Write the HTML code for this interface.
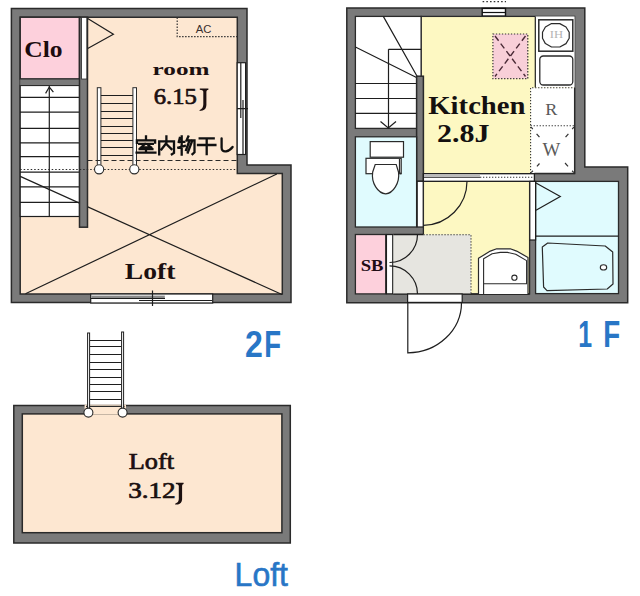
<!DOCTYPE html>
<html><head><meta charset="utf-8"><style>
html,body{margin:0;padding:0;background:#fff;width:640px;height:596px;overflow:hidden}
svg{display:block}
.wall{fill:#7a7a7a;stroke:#2a2a2a;stroke-width:1.5}
.ln{stroke:#1e1e1e;stroke-width:1.2;fill:none}
</style></head><body>
<svg width="640" height="596" viewBox="0 0 640 596">
<rect width="640" height="596" fill="#fff"/>

<!-- ================= 2F ================= -->
<g id="f2">
<path class="wall" d="M11.4,8.6 H247 V165.1 H291 V302.6 H11.4 Z"/>
<path d="M20.2,17.2 H237.3 V173.6 H282.3 V294.1 H20.2 Z" fill="#fde7d1" stroke="#2a2a2a" stroke-width="1.5"/>
<!-- stair -->
<rect x="20.2" y="85.5" width="59.3" height="131" fill="#fff" stroke="#1e1e1e" stroke-width="1.2"/>
<g class="ln">
<path d="M20,97.4H79.5M20,112.2H79.5M20,128.3H79.5M20,142.8H79.5M20,156.6H79.5M20,172.1H79.5M20,186.8H79.5M20,202.4H79.5"/>
<path d="M49.3,86V216.5"/>
<path d="M45.6,93.4 L49.3,87 L53.4,92.1"/>
</g>
<!-- X -->
<g class="ln">
<path d="M20.2,176.4 L282,294.5 M276.8,174 L25.5,293.8"/>
</g>
<!-- Clo -->
<rect x="20.2" y="17.2" width="59.3" height="61.8" fill="#fdd0dc" stroke="#2a2a2a" stroke-width="1.5"/>
<!-- wall below Clo -->
<rect x="20.2" y="79" width="67.3" height="6.5" fill="#7a7a7a"/>
<path d="M20.2,79 H79.5 M20.2,85.5 H79.5" stroke="#2a2a2a" stroke-width="1.2"/>
<!-- wall right of Clo/stair -->
<rect x="79.5" y="17.2" width="8" height="210" class="wall"/>
<rect x="81.6" y="17.5" width="5.2" height="61.5" fill="#fff" stroke="#2a2a2a" stroke-width="0.8"/>
<path class="ln" d="M87.7,18.5 L113.4,34.2 L87.7,48.5"/>
<!-- AC -->
<path d="M177.2,17.5 V36.6 H237" stroke="#333" stroke-width="1.2" stroke-dasharray="1.5,1.5" fill="none"/>
<!-- right window -->
<rect x="237.2" y="62.7" width="8.4" height="91.8" fill="#fff" stroke="#1e1e1e" stroke-width="1.2"/>
<path class="ln" d="M240.8,63V118 M243,100V154 M237,108.6H248" stroke-width="0.9"/>
<!-- bottom window -->
<rect x="90.7" y="294" width="122" height="9" fill="#fff" stroke="#1e1e1e" stroke-width="1.2"/>
<rect x="91.3" y="295.6" width="73.5" height="2.6" fill="#8a8a8a"/>
<path class="ln" d="M91,298.5H165 M139,300.5H212" stroke-width="1"/>
<path class="ln" d="M152.5,290.5V306" stroke-width="1.2"/>
<!-- ladder -->
<g>
<rect x="97.3" y="87.7" width="3.6" height="82" fill="#fff" stroke="#2a2a2a" stroke-width="1"/>
<rect x="132.9" y="87.7" width="3.6" height="82" fill="#fff" stroke="#2a2a2a" stroke-width="1"/>
<path class="ln" stroke-width="1.5" d="M100.9,95.5H132.9M100.9,103.5H132.9M100.9,111.5H132.9M100.9,118.5H132.9M100.9,126.5H132.9M100.9,133.5H132.9M100.9,140.5H132.9M100.9,147.5H132.9M100.9,155.5H132.9"/>
</g>
<path d="M87.5,160.5 H237.3" stroke="#2a2a2a" stroke-width="1.1" stroke-dasharray="5,3" fill="none"/>
<path d="M20.2,169.5 H237.3" stroke="#2a2a2a" stroke-width="1.2" stroke-dasharray="1.5,2" fill="none"/>
<circle cx="99.1" cy="169.3" r="4.6" fill="#fff" stroke="#2a2a2a" stroke-width="1.1"/>
<circle cx="134.3" cy="169.3" r="4.6" fill="#fff" stroke="#2a2a2a" stroke-width="1.1"/>
<!-- texts -->
<!-- 室内物干し -->
<g fill="none" stroke="#111" stroke-width="2.3" stroke-linecap="square">
<g transform="translate(136,136.5)">
<path d="M10,0V2.3 M0.9,6.4V3.8H19.1V6.2 M3.2,7.3H16.8 M9,7.3L5.2,10.9H15 M12.6,8.9L15.6,11.7 M3.6,12.6H16.4 M10,11V15.8 M0.6,16.1H19.4"/>
</g>
<g transform="translate(158.4,136.5)">
<path d="M0.8,17.8V4.8H15.6V16.4L13.5,17.8 M8,0V6.5 L3,13 M8,7.5L13,12.5"/>
</g>
<g transform="translate(178.3,136.5)">
<path d="M1.5,1.5L0.5,5.5 M0.5,5.3H6 M3.4,0V18 M0,11L6.5,9.3 M10,0L8.2,4 M8.8,3.8H16.2V15.8L14.2,17.6 M11.2,4L7.8,13.5 M14,4L9.5,16"/>
</g>
<g transform="translate(197.7,136.5)">
<path d="M2,1.8H16 M0.3,8.5H17.7 M9,2V17.6"/>
</g>
<g transform="translate(218.6,136.5)">
<path d="M3,1.8V11 Q3,15.5 7.5,14.8 Q11.5,14 14,10.5" stroke-linecap="round"/>
</g>
</g>
</g>

<!-- ================= LOFT ================= -->
<g id="loft">
<path class="wall" d="M13.8,405.5 H290.3 V542.9 H13.8 Z"/>
<rect x="22.3" y="413.9" width="259.6" height="118.8" fill="#fde7d1" stroke="#2a2a2a" stroke-width="1.5"/>
<rect x="84.6" y="404.6" width="41.4" height="10" fill="#fde7d1"/>
<path d="M86,406.3H124.5" stroke="#2a2a2a" stroke-width="1.2"/>
<rect x="87.6" y="333" width="2" height="79" fill="#fff" stroke="#1e1e1e" stroke-width="1"/>
<rect x="121.6" y="332" width="2" height="80" fill="#fff" stroke="#1e1e1e" stroke-width="1"/>
<path class="ln" stroke-width="1.5" d="M90,340.5H121.1M90,346.5H121.1M90,354.5H121.1M90,362.5H121.1M90,369.5H121.1M90,377.5H121.1M90,384.5H121.1M90,391.5H121.1M90,399.5H121.1"/>
<circle cx="88.4" cy="412.6" r="4.5" fill="#fff" stroke="#2a2a2a" stroke-width="1.1"/>
<circle cx="122.6" cy="412.6" r="4.5" fill="#fff" stroke="#2a2a2a" stroke-width="1.1"/>
</g>

<!-- ================= 1F ================= -->
<g id="f1">
<path class="wall" d="M346.8,8 H584.8 V167 H627.7 V302.8 H346.8 Z"/>
<!-- top small window -->
<rect x="482.2" y="8.4" width="23.3" height="7.7" fill="#fff" stroke="#111" stroke-width="1.4"/>
<path d="M482,12.5H505.7" stroke="#111" stroke-width="1.2"/>
<path d="M482.6,1.7H506" stroke="#333" stroke-width="1.3" stroke-dasharray="1.6,2.1"/>
<!-- kitchen -->
<rect x="421.1" y="16.4" width="153.5" height="157.3" fill="#fdf8c2" stroke="#2a2a2a" stroke-width="1.3"/>
<!-- counter -->
<rect x="535.3" y="16.4" width="39.3" height="71.2" fill="#fff"/>
<path class="ln" d="M535.3,16.4V87.6"/>
<rect x="538.8" y="19.8" width="34" height="31.4" fill="#fff" stroke="#2a2a2a" stroke-width="1.5"/>
<path d="M551.5,23.6 H559.8 L566,27 L569.2,32.3 V38.3 L566,43.6 L559.8,47 H551.5 L545.4,43.6 L542.5,38.3 V32.3 L545.4,27 Z" fill="#fff" stroke="#2a2a2a" stroke-width="1.2" stroke-linejoin="round"/>
<rect x="539.8" y="56" width="33" height="29" rx="3.5" fill="#fff" stroke="#2a2a2a" stroke-width="1.3"/>
<!-- R W -->
<rect x="530.6" y="87.8" width="44" height="85.5" fill="#fff"/>
<path d="M530.6,173.3V87.8H574.6 M530.6,125.7H574.6" stroke="#333" stroke-width="1.1" stroke-dasharray="1.3,1.7" fill="none"/>
<path d="M531.2,127.2 L540.5,138.5 M573.8,127.2 L564.5,138.5 M531.2,172.6 L539.5,163.5 M573.8,172.6 L565,163" stroke="#333" stroke-width="1.2" stroke-dasharray="2.5,6,4.5,30" fill="none"/>
<path d="M534.4,173.4 H574.6 V88" stroke="#2a2a2a" stroke-width="1.3" fill="none"/>
<!-- pink square -->
<rect x="492.9" y="34" width="34.9" height="44.7" fill="#f8cfd8" stroke="#333" stroke-width="1.2" stroke-dasharray="1.3,1.7"/>
<path d="M495,36 L525.5,76.5 M525.5,36 L495,76.5" stroke="#4a2a36" stroke-width="1.4" stroke-dasharray="6,3.5" fill="none"/>
<!-- stair -->
<rect x="355.4" y="16.4" width="65.7" height="112" fill="#fff" stroke="#2a2a2a" stroke-width="1.3"/>
<g class="ln">
<path d="M388.5,49.3H421.1 M388.5,49.3V128.4 M355.4,83.5H416.6 M355.4,98.5H416.6 M355.4,113.4H416.6"/>
<path d="M383.3,16.4 L417.5,77 M355.4,47 L417.5,78"/>
<path d="M380.5,121.5 L388.3,128 L396,121.5"/>
</g>
<!-- newel / wall -->
<rect x="416.6" y="76.2" width="6.8" height="105.1" class="wall"/>
<!-- toilet room -->
<rect x="355.4" y="136.8" width="61.2" height="90.2" fill="#e0fbfe" stroke="#2a2a2a" stroke-width="1.3"/>
<rect x="370.2" y="141.6" width="33.3" height="15.6" fill="#fff" stroke="#2a2a2a" stroke-width="1.2"/>
<rect x="366" y="158.3" width="35.2" height="15.4" fill="#fff" stroke="#2a2a2a" stroke-width="1.2"/>
<path d="M375.2,164.5 H396.2 L398.5,172 C400,183 393,193.5 385.7,193.8 C378,193.5 371,183 372.7,172 Z" fill="#fff" stroke="#2a2a2a" stroke-width="1.2"/>
<path d="M399.5,159 V172.5 L401.2,174" stroke="#2a2a2a" stroke-width="1.2" fill="none"/>
<!-- toilet door strip -->
<rect x="417.2" y="181.3" width="6.2" height="45.7" fill="#fff" stroke="#1e1e1e" stroke-width="1.2"/>
<!-- washroom -->
<rect x="423.4" y="181.3" width="106.2" height="112.6" fill="#fdf8c2" stroke="#2a2a2a" stroke-width="1.3"/>
<!-- sliding partition -->
<rect x="423.4" y="173.7" width="111" height="7.6" fill="#fff" stroke="#1e1e1e" stroke-width="1.3"/>
<path d="M423.4,177.3H480" stroke="#1e1e1e" stroke-width="1.1"/>
<rect x="424" y="174.4" width="56" height="2.5" fill="#bbb"/>
<path d="M480,177.3H534" stroke="#333" stroke-width="1.1" stroke-dasharray="1.3,1.7"/>
<!-- washroom door arc -->
<path class="ln" d="M467,181.3 A44,44 0 0 1 423.4,225.3"/>
<!-- SB -->
<rect x="355.4" y="234.5" width="30.4" height="59.4" fill="#fdd0dc" stroke="#2a2a2a" stroke-width="1.3"/>
<rect x="386.4" y="234.5" width="6.4" height="59.4" fill="#fff" stroke="#1e1e1e" stroke-width="1.3"/>
<!-- genkan -->
<rect x="393.3" y="234.5" width="77.7" height="59.4" fill="#e6e5e0"/>
<path d="M423.4,234.8H471V293.9" stroke="#333" stroke-width="1.1" stroke-dasharray="1.3,1.7" fill="none"/>
<path d="M393.3,234.5H423.4 M393.3,294.2H529.6" stroke="#1e1e1e" stroke-width="1.3"/>
<path class="ln" d="M417.5,234.5 A28,28 0 0 1 389.5,262.5 M389.5,265.9 A28,28 0 0 1 417.5,293.9"/>
<!-- washbasin -->
<path d="M478.5,294 V258.3 L490.3,251.1 L496.7,248.8 H510.3 L516.6,251.1 L528,257.5 V294" fill="#fff" stroke="#2a2a2a" stroke-width="1.2" stroke-linejoin="round"/>
<path d="M483.6,294 V258.8 L492.1,253.8 L500.3,252.4 H507.5 L515.7,254.2 L526.6,260.6 V283.7 H483.6" fill="#fff" stroke="#2a2a2a" stroke-width="1.1" stroke-linejoin="round"/>
<circle cx="514.4" cy="277.7" r="2.6" fill="#fff" stroke="#2a2a2a" stroke-width="1.1"/>
<!-- bath -->
<rect x="535.6" y="181.4" width="82.9" height="112.2" fill="#e0fbfe" stroke="#2a2a2a" stroke-width="1.3"/>
<rect x="529.8" y="181.4" width="5.8" height="58.6" fill="#fff" stroke="#1e1e1e" stroke-width="1.2"/>
<path class="ln" d="M535.6,236.2H618.1"/>
<path class="ln" d="M536,183 L560.3,196.5 L536,210.3"/>
<path d="M547.7,243 L605.2,246 L612.7,252 L613,284 L607.2,289 L547,290.6 L543.6,287 L542.3,247 Z" fill="#e0fbfe" stroke="#2a2a2a" stroke-width="1.2" stroke-linejoin="round"/>
<ellipse cx="603.5" cy="267.4" rx="3.2" ry="2.6" fill="#fff" stroke="#2a2a2a" stroke-width="1.1"/>
<!-- entry door -->
<rect x="407.6" y="294" width="54.6" height="8.4" fill="#fff" stroke="#1e1e1e" stroke-width="1.2"/>
<path class="ln" d="M407.8,302.4V352.8 H410 M461.5,302.4 A53.7,50.4 0 0 1 407.8,352.8"/>
</g>
<!--T-->
<text x="24.20" y="57.40" font-family="Liberation Serif, serif" font-weight="bold" font-size="23.22" fill="#1c0c10" textLength="38.35" lengthAdjust="spacingAndGlyphs">Clo</text>
<text x="152.61" y="75.00" font-family="Liberation Serif, serif" font-weight="bold" font-size="17.38" fill="#1c1010" textLength="56.91" lengthAdjust="spacingAndGlyphs">room</text>
<text x="153.78" y="104.21" font-family="Liberation Serif, serif" font-weight="normal" font-size="23.34" fill="#1c1010" stroke="#1c1010" stroke-width="0.7" textLength="43.13" lengthAdjust="spacingAndGlyphs">6.15</text>
<text x="124.80" y="279.20" font-family="Liberation Serif, serif" font-weight="bold" font-size="23.72" fill="#1c1010" textLength="50.66" lengthAdjust="spacingAndGlyphs">Loft</text>
<text x="128.80" y="468.53" font-family="Liberation Serif, serif" font-weight="normal" font-size="23.01" fill="#1c1010" stroke="#1c1010" stroke-width="0.7" textLength="45.22" lengthAdjust="spacingAndGlyphs">Loft</text>
<text x="128.23" y="497.83" font-family="Liberation Serif, serif" font-weight="normal" font-size="22.24" fill="#1c1010" stroke="#1c1010" stroke-width="0.7" textLength="47.47" lengthAdjust="spacingAndGlyphs">3.12</text>
<text x="428.30" y="114.20" font-family="Liberation Serif, serif" font-weight="bold" font-size="24.72" fill="#141010" textLength="97.21" lengthAdjust="spacingAndGlyphs">Kitchen</text>
<text x="436.97" y="142.00" font-family="Liberation Serif, serif" font-weight="bold" font-size="25.49" fill="#141010" textLength="52.44" lengthAdjust="spacingAndGlyphs">2.8J</text>
<text x="360.70" y="271.20" font-family="Liberation Serif, serif" font-weight="bold" font-size="16.34" fill="#200c14" textLength="22.77" lengthAdjust="spacingAndGlyphs">SB</text>
<text x="545.33" y="115.11" font-family="Liberation Serif, serif" font-weight="normal" font-size="17.18" fill="#5a5a5a" textLength="12.08" lengthAdjust="spacingAndGlyphs">R</text>
<text x="542.62" y="156.06" font-family="Liberation Serif, serif" font-weight="normal" font-size="18.57" fill="#5a5a5a" textLength="17.78" lengthAdjust="spacingAndGlyphs">W</text>
<text x="195.81" y="32.52" font-family="Liberation Sans, sans-serif" font-weight="normal" font-size="10.15" fill="#3a3030" textLength="15.69" lengthAdjust="spacingAndGlyphs">AC</text>
<text x="549.88" y="37.87" font-family="Liberation Serif, serif" font-weight="normal" font-size="10.36" fill="#b4b4b4" textLength="13.33" lengthAdjust="spacingAndGlyphs">IH</text>
<text x="245.09" y="357.48" font-family="Liberation Sans, sans-serif" font-weight="bold" font-size="36.98" fill="#2876c6" textLength="17.82" lengthAdjust="spacingAndGlyphs">2</text>
<text x="264.25" y="357.48" font-family="Liberation Sans, sans-serif" font-weight="bold" font-size="36.94" fill="#2876c6" textLength="16.82" lengthAdjust="spacingAndGlyphs">F</text>
<text x="578.36" y="347.33" font-family="Liberation Sans, sans-serif" font-weight="bold" font-size="36.77" fill="#2876c6" textLength="13.85" lengthAdjust="spacingAndGlyphs">1</text>
<text x="603.17" y="347.48" font-family="Liberation Sans, sans-serif" font-weight="bold" font-size="36.03" fill="#2876c6" textLength="16.90" lengthAdjust="spacingAndGlyphs">F</text>
<text x="234.62" y="586.47" font-family="Liberation Sans, sans-serif" font-weight="normal" font-size="33.60" fill="#2876c6" stroke="#2876c6" stroke-width="0.6" textLength="53.33" lengthAdjust="spacingAndGlyphs">Loft</text>
<path d="M199.8,88.6 H208.4 V89.8 Q206.6,90 206.4,91.5 V105 Q206.2,109.5 202.5,110.6 L199.4,111 L199.8,110 Q203.2,108.5 203.3,104.5 V91.5 Q203.1,90 199.8,89.8 Z" fill="#1c1010"/>
<path d="M175.8,482.8 H183.6 V484.1 Q182.2,484.3 182.1,485.8 V499.5 Q181.8,503.5 178,504.4 L175,504.6 L175.4,503.5 Q178.7,502.5 178.8,499 V485.8 Q178.6,484.3 175.8,484.1 Z" fill="#1c1010"/>
<!--/T-->
</svg>
</body></html>
